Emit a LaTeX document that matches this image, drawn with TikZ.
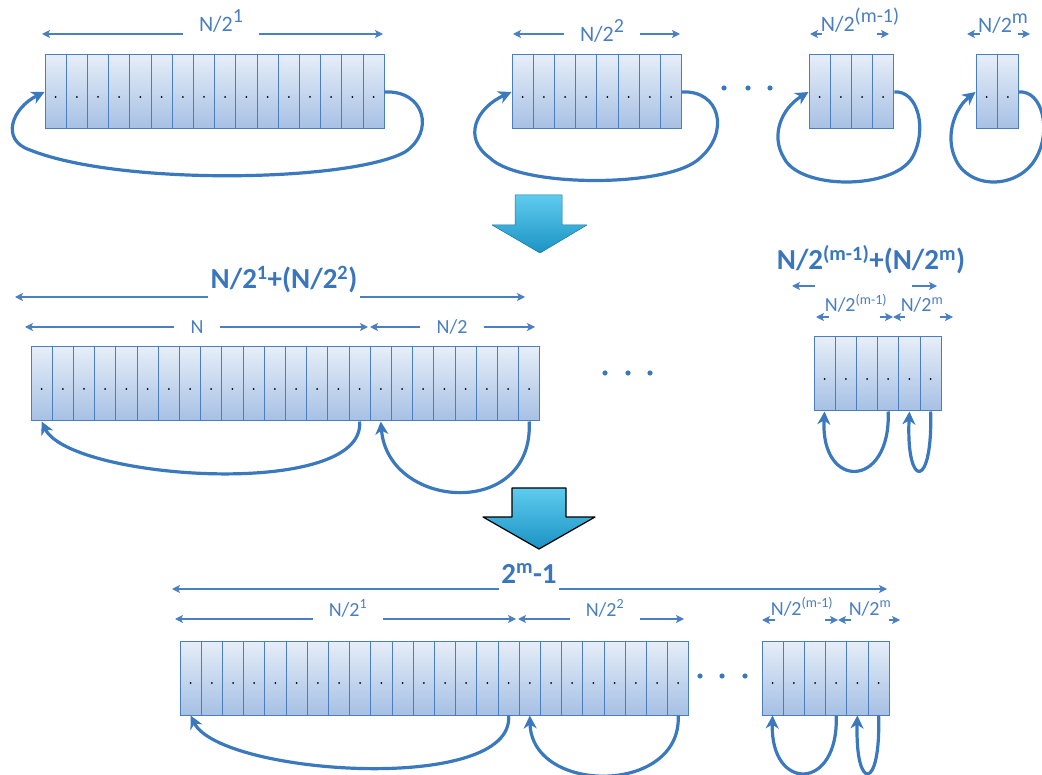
\documentclass[tikz,border=0pt]{standalone}
\usepackage{fontspec}
\setmainfont{Carlito}
\usetikzlibrary{arrows.meta, positioning}

\definecolor{cellTop}{HTML}{E6EEF8}
\definecolor{cellBot}{HTML}{A6C0E4}
\definecolor{cellEdge}{HTML}{4A7EBE}
\definecolor{loopBlue}{HTML}{3B79BF}
\definecolor{lineBlue}{HTML}{4A80C2}
\definecolor{labelBlue}{HTML}{4A7EC0}
\definecolor{titleBlue}{HTML}{3A76BE}
\definecolor{arrowTop}{HTML}{5FCBEE}
\definecolor{arrowBot}{HTML}{1B93C4}

\newcommand{\hisup}[1]{\raisebox{0.45em}{\fontsize{20}{20}\selectfont #1}}

\begin{document}
\begin{tikzpicture}[
    x=1pt, y=1pt,
    mem_cell/.style={rectangle, draw=cellEdge, line width=1pt, top color=cellTop, bottom color=cellBot, minimum width=21.2pt, minimum height=74pt, inner sep=0pt, path picture={\fill[black] ([yshift=-5pt]path picture bounding box.center) circle (1pt);}},
    span_label/.style={text=labelBlue, font=\fontsize{20}{24}\selectfont, anchor=base, inner xsep=16pt, inner ysep=2pt},
    top_label/.style={span_label, font=\fontsize{22}{26}\selectfont},
    sum_title/.style={text=titleBlue, font=\fontsize{29}{34}\selectfont\bfseries, anchor=base, inner xsep=2pt, inner ysep=2pt},
    span_arrow/.style={-{Stealth[length=8pt,width=8pt,inset=2pt]}, line width=1.2pt, draw=lineBlue},
    cycle_arrow/.style={-{Stealth[length=13pt,width=13pt,inset=4pt]}, line width=3.2pt, draw=loopBlue},
    down_arrow/.style={top color=arrowTop, bottom color=arrowBot, line join=round}
]
    \useasboundingbox (0,0) rectangle (1042,-775);

    % Row 1: the split arrays
    \foreach \i in {1,...,16} \node[mem_cell] (half_\i) at ({45+21.2*(\i-0.5)},-92) {};
    \foreach \i in {1,...,8} \node[mem_cell] (quarter_\i) at ({512+21.2*(\i-0.5)},-92) {};
    \foreach \i in {1,...,4} \node[mem_cell] (prelast_\i) at ({809+21.2*(\i-0.5)},-92) {};
    \foreach \i in {1,2} \node[mem_cell] (last_\i) at ({976+21.2*(\i-0.5)},-92) {};
    \foreach \x in {724,748,770} \fill[loopBlue] (\x,-88) circle (2.6pt);

    \draw[cycle_arrow] (half_16.east) .. controls (425,-90) and (435,-132) .. (405,-152) .. controls (350,-182) and (120,-186) .. (30,-150) .. controls (0,-140) and (12,-108) .. (half_1.west);
    \draw[cycle_arrow] (quarter_8.east) .. controls (720,-90) and (730,-132) .. (700,-158) .. controls (670,-188) and (520,-188) .. (490,-158) .. controls (462,-138) and (476,-108) .. (quarter_1.west);
    \draw[cycle_arrow] (prelast_4.east) .. controls (918,-90) and (928,-130) .. (912,-158) .. controls (892,-190) and (800,-190) .. (784,-158) .. controls (770,-135) and (782,-108) .. (prelast_1.west);
    \draw[cycle_arrow] (last_2.east) .. controls (1042,-90) and (1052,-130) .. (1036,-158) .. controls (1018,-190) and (968,-190) .. (955,-158) .. controls (945,-135) and (955,-108) .. (last_1.west);

    \node[top_label] (len_half) at (221,-32) {N/2\hisup{1}};
    \node[top_label] (len_quarter) at (602,-42) {N/2\hisup{2}};
    \node[top_label, inner xsep=0pt] (len_prelast) at (860,-32) {N/2\hisup{(m-1)}};
    \node[top_label, inner xsep=0pt] (len_last) at (1003,-33) {N/2\hisup{m}};
    \coordinate (half_l) at (42,-34);
    \coordinate (half_r) at (383,-34);
    \coordinate (quarter_l) at (513,-34);
    \coordinate (quarter_r) at (680,-34);
    \draw[span_arrow] (len_half.west |- half_l) -- (half_l);
    \draw[span_arrow] (len_half.east |- half_r) -- (half_r);
    \draw[span_arrow] (len_quarter.west |- quarter_l) -- (quarter_l);
    \draw[span_arrow] (len_quarter.east |- quarter_r) -- (quarter_r);
    \coordinate (prelast_a) at (822,-34);
    \coordinate (prelast_b) at (810,-34);
    \coordinate (prelast_c) at (877,-34);
    \coordinate (prelast_d) at (889,-34);
    \coordinate (last_a) at (980,-34);
    \coordinate (last_b) at (967,-34);
    \coordinate (last_c) at (1018,-34);
    \coordinate (last_d) at (1030,-34);
    \draw[span_arrow] (prelast_a) -- (prelast_b);
    \draw[span_arrow] (prelast_c) -- (prelast_d);
    \draw[span_arrow] (last_a) -- (last_b);
    \draw[span_arrow] (last_c) -- (last_d);

    % first merge step
    \draw[down_arrow, draw=arrowBot!80!black, line width=0.5pt] (515,-195) -- (562,-195) -- (562,-225) -- (587,-225) -- (540,-253) -- (492,-225) -- (515,-225) -- cycle;

    % Row 2: merged pairs
    \foreach \i in {1,...,24} \node[mem_cell] (merge_\i) at ({31+21.2*(\i-0.5)},-384) {};
    \foreach \i in {1,...,6} \node[mem_cell] (mergeB_\i) at ({814+21.2*(\i-0.5)},-374) {};
    \foreach \x in {605,628,650} \fill[loopBlue] (\x,-373) circle (2.6pt);

    \draw[cycle_arrow] (merge_16.south) .. controls (366,-500) and (70,-480) .. (merge_1.south);
    \draw[cycle_arrow] (merge_24.south) .. controls (534,-520) and (388,-510) .. (merge_17.south);
    \draw[cycle_arrow] (mergeB_4.south) .. controls (891,-490) and (820,-490) .. (mergeB_1.south);
    \draw[cycle_arrow] (mergeB_6.south) .. controls (933,-490) and (906,-490) .. (mergeB_5.south);

    \node[sum_title] (sum_a) at (284,-289) {N/2\textsuperscript{1}+(N/2\textsuperscript{2})};
    \coordinate (sum_a_l) at (15,-297);
    \coordinate (sum_a_r) at (525,-297);
    \draw[span_arrow] (sum_a.west |- sum_a_l) -- (sum_a_l);
    \draw[span_arrow] (sum_a.east |- sum_a_r) -- (sum_a_r);

    \node[span_label] (len_n) at (197,-334) {N};
    \node[span_label] (len_n2) at (452,-334) {N/2};
    \coordinate (n_l) at (25,-327);
    \coordinate (n_r) at (368,-327);
    \coordinate (n2_l) at (370,-327);
    \coordinate (n2_r) at (535,-327);
    \draw[span_arrow] (len_n.west |- n_l) -- (n_l);
    \draw[span_arrow] (len_n.east |- n_r) -- (n_r);
    \draw[span_arrow] (len_n2.west |- n2_l) -- (n2_l);
    \draw[span_arrow] (len_n2.east |- n2_r) -- (n2_r);

    \node[sum_title] (sum_b) at (871,-270) {N/2\textsuperscript{(m-1)}+(N/2\textsuperscript{m})};
    \coordinate (sum_b_a) at (815,-286);
    \coordinate (sum_b_b) at (792,-286);
    \coordinate (sum_b_c) at (912,-286);
    \coordinate (sum_b_d) at (937,-286);
    \draw[span_arrow] (sum_b_a) -- (sum_b_b);
    \draw[span_arrow] (sum_b_c) -- (sum_b_d);

    \node[span_label, inner xsep=0pt] (len_prelast_b) at (856,-312) {N/2\textsuperscript{(m-1)}};
    \node[span_label, inner xsep=0pt] (len_last_b) at (922,-312) {N/2\textsuperscript{m}};
    \coordinate (plb_a) at (829,-317);
    \coordinate (plb_b) at (816,-317);
    \coordinate (plb_c) at (880,-317);
    \coordinate (plb_d) at (893,-317);
    \coordinate (lb_a) at (905,-317);
    \coordinate (lb_b) at (940,-317);
    \coordinate (lb_c) at (953,-317);
    \draw[span_arrow] (plb_a) -- (plb_b);
    \draw[span_arrow] (plb_c) -- (plb_d);
    \draw[span_arrow] (lb_a) -- (plb_d);
    \draw[span_arrow] (lb_b) -- (lb_c);

    % second merge step
    \draw[down_arrow, draw=black, line width=1.2pt] (512,-488) -- (566,-488) -- (566,-517) -- (595,-517) -- (539,-549) -- (483,-517) -- (512,-517) -- cycle;

    % Row 3: all merged
    \foreach \i in {1,...,24} \node[mem_cell] (final_\i) at ({180+21.2*(\i-0.5)},-678) {};
    \foreach \i in {1,...,6} \node[mem_cell] (finalB_\i) at ({762+21.2*(\i-0.5)},-678) {};
    \foreach \x in {700,722,745} \fill[loopBlue] (\x,-676) circle (2.6pt);

    \draw[cycle_arrow] (final_16.south) .. controls (515,-795) and (220,-775) .. (final_1.south);
    \draw[cycle_arrow] (final_24.south) .. controls (682,-795) and (532,-795) .. (final_17.south);
    \draw[cycle_arrow] (finalB_4.south) .. controls (839,-792) and (770,-792) .. (finalB_1.south);
    \draw[cycle_arrow] (finalB_6.south) .. controls (881,-792) and (855,-792) .. (finalB_5.south);

    \node[sum_title] (sum_c) at (529,-583) {2\textsuperscript{m}-1};
    \coordinate (sum_c_l) at (172,-589);
    \coordinate (sum_c_r) at (887,-589);
    \draw[span_arrow] (sum_c.west |- sum_c_l) -- (sum_c_l);
    \draw[span_arrow] (sum_c.east |- sum_c_r) -- (sum_c_r);

    \node[span_label] (len_half_c) at (348,-616) {N/2\textsuperscript{1}};
    \node[span_label] (len_quarter_c) at (605,-616) {N/2\textsuperscript{2}};
    \coordinate (hc_l) at (175,-619);
    \coordinate (hc_r) at (516,-619);
    \coordinate (qc_l) at (518,-619);
    \coordinate (qc_r) at (684,-619);
    \draw[span_arrow] (len_half_c.west |- hc_l) -- (hc_l);
    \draw[span_arrow] (len_half_c.east |- hc_r) -- (hc_r);
    \draw[span_arrow] (len_quarter_c.west |- qc_l) -- (qc_l);
    \draw[span_arrow] (len_quarter_c.east |- qc_r) -- (qc_r);

    \node[span_label, inner xsep=0pt] (len_prelast_c) at (802,-615) {N/2\textsuperscript{(m-1)}};
    \node[span_label, inner xsep=0pt] (len_last_c) at (870,-615) {N/2\textsuperscript{m}};
    \coordinate (plc_a) at (775,-620);
    \coordinate (plc_b) at (762,-620);
    \coordinate (plc_c) at (825,-620);
    \coordinate (plc_d) at (838,-620);
    \coordinate (lc_a) at (851,-620);
    \coordinate (lc_b) at (889,-620);
    \coordinate (lc_c) at (900,-620);
    \draw[span_arrow] (plc_a) -- (plc_b);
    \draw[span_arrow] (plc_c) -- (plc_d);
    \draw[span_arrow] (lc_a) -- (plc_d);
    \draw[span_arrow] (lc_b) -- (lc_c);

\end{tikzpicture}
\end{document}
